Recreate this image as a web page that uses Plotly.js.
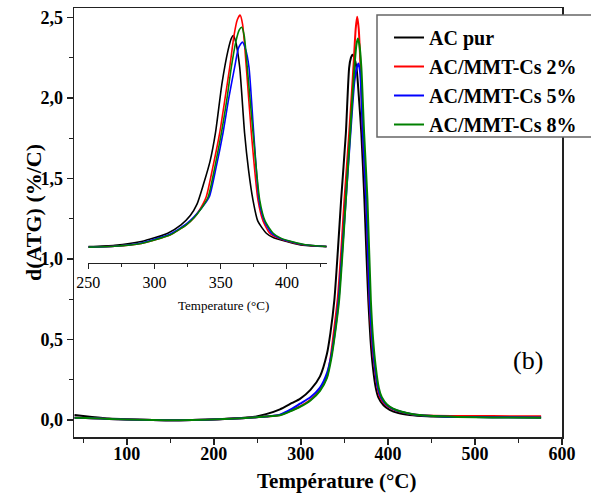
<!DOCTYPE html>
<html>
<head>
<meta charset="utf-8">
<script src="https://cdn.plot.ly/plotly-3.0.1.min.js"></script>
<style>html,body{margin:0;padding:0;background:#fff;}#chart{width:591px;height:495px;}</style>
</head>
<body>
<div id="chart"></div>
<script>
// ---- Data ----
const seriesNames = ['AC pur', 'AC/MMT-Cs 2%', 'AC/MMT-Cs 5%', 'AC/MMT-Cs 8%'];
const seriesColors = ['#000000', '#ff0000', '#0000ff', '#008000'];

// Main plot: temperature (°C) and d(ATG) (%/C)
const acPurX = [40, 60, 80, 100, 130, 160, 190, 220, 245, 260, 276, 290, 299, 311, 322, 330, 334, 338.5, 342.5, 346.3, 351.7, 355.5, 357.5, 359.3, 362, 364.3, 367, 369.5, 373, 375, 377.5, 380, 382.7, 386, 389, 395, 402, 412, 425, 445, 480, 520, 576];
const acPurY = [0.03, 0.018, 0.008, 0.003, -0.002, -0.003, 0.0, 0.008, 0.017, 0.035, 0.065, 0.105, 0.13, 0.186, 0.27, 0.41, 0.54, 0.745, 1.05, 1.37, 1.78, 2.19, 2.25, 2.27, 2.24, 2.17, 1.98, 1.78, 1.37, 1.08, 0.745, 0.5, 0.33, 0.2, 0.14, 0.09, 0.062, 0.042, 0.03, 0.022, 0.018, 0.016, 0.015];

const cs2X = [40, 60, 80, 100, 130, 160, 190, 220, 245, 260, 276, 290, 299, 311, 322, 330, 334, 338, 342.5, 346.5, 350.1, 355.5, 360.5, 363, 364.7, 366.5, 368.5, 371.2, 375, 378.8, 381.5, 384.6, 388, 391, 397, 404, 414, 427, 445, 480, 520, 576];
const cs2Y = [0.012, 0.01, 0.005, 0.002, -0.002, -0.003, 0.0, 0.006, 0.014, 0.02, 0.03, 0.06, 0.083, 0.124, 0.186, 0.27, 0.38, 0.55, 0.76, 1.06, 1.37, 1.78, 2.2, 2.43, 2.505, 2.43, 2.2, 1.78, 1.37, 0.745, 0.5, 0.33, 0.2, 0.14, 0.095, 0.07, 0.05, 0.035, 0.027, 0.024, 0.023, 0.022];

const cs5X = [40, 60, 80, 100, 130, 160, 190, 220, 245, 260, 276, 290, 299, 311, 322, 330, 335, 339, 343.4, 347.5, 351.7, 357, 361.5, 364.3, 366.2, 368.3, 371.2, 375, 379, 382, 385, 388.5, 392, 398, 405, 415, 428, 446, 480, 520, 576];
const cs5Y = [0.012, 0.01, 0.005, 0.002, -0.002, -0.003, 0.0, 0.006, 0.014, 0.02, 0.032, 0.07, 0.1, 0.14, 0.2, 0.29, 0.4, 0.54, 0.745, 1.05, 1.37, 1.78, 2.1, 2.19, 2.215, 2.15, 1.78, 1.37, 0.745, 0.5, 0.33, 0.2, 0.14, 0.095, 0.07, 0.05, 0.035, 0.025, 0.018, 0.016, 0.015];

const cs8X = [40, 60, 80, 100, 130, 160, 190, 220, 245, 260, 276, 290, 299, 311, 322, 330, 335, 339.4, 344, 348, 351.7, 356.6, 361.5, 363.8, 365.5, 367.3, 369.5, 372.7, 376.5, 380.4, 383, 386, 389.5, 393, 399, 406, 416, 429, 447, 480, 520, 576];
const cs8Y = [0.012, 0.01, 0.005, 0.002, -0.002, -0.003, 0.0, 0.006, 0.014, 0.02, 0.028, 0.058, 0.08, 0.12, 0.18, 0.26, 0.38, 0.54, 0.745, 1.05, 1.37, 1.78, 2.19, 2.33, 2.37, 2.33, 2.19, 1.78, 1.37, 0.745, 0.5, 0.33, 0.2, 0.14, 0.095, 0.07, 0.05, 0.035, 0.025, 0.018, 0.015, 0.013];

// Inset (250–430 °C) as drawn in the reference
const insetPurX = [250, 270, 290, 300, 310, 320, 327, 332, 337, 342, 346, 351, 355.5, 358, 359.5, 361.5, 364.3, 368, 371, 374.3, 378, 384.4, 390, 400, 412, 430];
const insetPurY = [0.025, 0.04, 0.08, 0.12, 0.17, 0.26, 0.36, 0.48, 0.7, 0.95, 1.25, 1.79, 2.14, 2.27, 2.30, 2.22, 1.96, 1.25, 0.85, 0.53, 0.3, 0.17, 0.12, 0.08, 0.04, 0.025];
const insetCs2X = [250, 270, 290, 300, 311.6, 324, 330, 334, 339, 344, 349.2, 353, 356.8, 360, 362.5, 364.6, 366.5, 369.3, 373.1, 378.1, 382, 387, 393, 400, 412, 430];
const insetCs2Y = [0.02, 0.03, 0.06, 0.097, 0.15, 0.26, 0.34, 0.42, 0.56, 0.88, 1.25, 1.6, 1.96, 2.3, 2.47, 2.52, 2.42, 1.96, 1.25, 0.53, 0.3, 0.17, 0.12, 0.085, 0.045, 0.027];
const insetCs5X = [250, 270, 290, 300, 311.6, 324, 330, 335, 341.3, 346.5, 351.7, 356, 360.5, 363.5, 366.3, 368.8, 371.3, 374.9, 378.9, 383, 388.4, 394, 401, 413, 430];
const insetCs5Y = [0.02, 0.03, 0.065, 0.105, 0.16, 0.27, 0.35, 0.43, 0.56, 0.88, 1.25, 1.62, 1.96, 2.17, 2.23, 2.15, 1.96, 1.25, 0.53, 0.3, 0.17, 0.12, 0.085, 0.045, 0.027];
const insetCs8X = [250, 270, 290, 300, 311.6, 324, 330, 335, 340.5, 345.5, 350.5, 354.5, 358, 361.5, 364, 365.8, 367.7, 370, 374.4, 379.4, 383.5, 389.6, 395, 402, 414, 430];
const insetCs8Y = [0.02, 0.03, 0.06, 0.097, 0.15, 0.26, 0.34, 0.43, 0.56, 0.88, 1.25, 1.6, 1.96, 2.24, 2.36, 2.39, 2.3, 1.96, 1.25, 0.53, 0.3, 0.17, 0.12, 0.085, 0.045, 0.027];

const xTitle = 'Température (°C)';
const yTitle = 'd(ATG) (%/C)';
const insetTitle = 'Temperature (°C)';
const panelLabel = '(b)';

// ---- Build traces ----
const mainX = [acPurX, cs2X, cs5X, cs8X];
const mainY = [acPurY, cs2Y, cs5Y, cs8Y];
const insX = [insetPurX, insetCs2X, insetCs5X, insetCs8X];
const insY = [insetPurY, insetCs2Y, insetCs5Y, insetCs8Y];

const traces = [];
for (let i = 0; i < 4; i++) {
  traces.push({
    x: mainX[i], y: mainY[i], name: seriesNames[i], type: 'scatter', mode: 'lines',
    line: {color: seriesColors[i], width: 2, shape: 'spline', smoothing: 0.6},
    xaxis: 'x', yaxis: 'y', hoverinfo: 'skip'
  });
}
for (let i = 0; i < 4; i++) {
  traces.push({
    x: insX[i], y: insY[i], name: seriesNames[i], type: 'scatter', mode: 'lines',
    line: {color: seriesColors[i], width: 1.6, shape: 'spline', smoothing: 0.6},
    xaxis: 'x2', yaxis: 'y2', showlegend: false, hoverinfo: 'skip'
  });
}

const serif = 'Liberation Serif';
const W = 591, H = 495, L = 74, R = 29, T = 8, B = 58;
const pw = W - L - R, ph = H - T - B;
const px = (x) => (x - L) / pw;          // pixel -> paper x
const py = (y) => (H - B - y) / ph;       // pixel -> paper y

const layout = {
  width: W, height: H,
  margin: {l: L, r: R, t: T, b: B, pad: 0},
  paper_bgcolor: '#ffffff', plot_bgcolor: 'rgba(0,0,0,0)',
  font: {family: serif, color: '#000'},
  separators: ', ',
  showlegend: true,
  legend: {
    x: px(389), y: py(18), xanchor: 'left', yanchor: 'top',
    bgcolor: 'rgba(0,0,0,0)', borderwidth: 0,
    font: {family: serif, size: 20, color: '#000', weight: 'bold'},
    tracegroupgap: 0
  },
  xaxis: {
    domain: [0, 1], anchor: 'y', range: [39.4, 600.01],
    tick0: 0, dtick: 100, ticks: 'outside', ticklen: 6, tickwidth: 1.5, tickcolor: '#222',
    ticklabelstandoff: -6,
    minor: {dtick: 50, ticks: 'outside', ticklen: 4, tickwidth: 1.2, tickcolor: '#222', showgrid: false},
    showline: true, linecolor: '#222', linewidth: 1.5, mirror: true,
    showgrid: false, zeroline: false,
    tickfont: {family: serif, size: 18, color: '#000', weight: 'bold'}
  },
  yaxis: {
    domain: [0, 1], anchor: 'x', range: [-0.107, 2.56],
    tick0: 0, dtick: 0.5, tickformat: '.1f', ticks: 'outside', ticklen: 6, tickwidth: 1.5, tickcolor: '#222',
    minor: {dtick: 0.25, ticks: 'outside', ticklen: 4, tickwidth: 1.2, tickcolor: '#222', showgrid: false},
    showline: true, linecolor: '#222', linewidth: 1.5, mirror: true,
    showgrid: false, zeroline: false,
    tickfont: {family: serif, size: 18, color: '#000', weight: 'bold'}
  },
  xaxis2: {
    domain: [px(88.3), px(326.7)], anchor: 'y2', range: [250, 430],
    tick0: 0, dtick: 50, ticks: 'outside', ticklen: 5, tickwidth: 1, tickcolor: '#222',
    minor: {dtick: 25, ticks: 'outside', ticklen: 3, tickwidth: 1, tickcolor: '#222', showgrid: false},
    showline: true, linecolor: '#222', linewidth: 1, mirror: false,
    showgrid: false, zeroline: false,
    tickfont: {family: serif, size: 16, color: '#000'}
  },
  yaxis2: {
    domain: [py(263), 1], anchor: 'x2', range: [-0.151, 2.597],
    visible: false, showgrid: false, zeroline: false
  },
  shapes: [
    {type: 'rect', xref: 'paper', yref: 'paper', layer: 'above',
     x0: px(377), x1: px(600), y0: py(137), y1: py(15),
     line: {color: '#666', width: 1.5}, fillcolor: '#ffffff'}
  ],
  annotations: [
    {text: xTitle, xref: 'paper', yref: 'paper', x: px(336), y: py(481), xanchor: 'center', yanchor: 'middle',
     showarrow: false, font: {family: serif, size: 21, color: '#000', weight: 'bold'}},
    {text: yTitle, xref: 'paper', yref: 'paper', x: px(33), y: py(213), xanchor: 'center', yanchor: 'middle',
     textangle: -90, showarrow: false, font: {family: serif, size: 22, color: '#000', weight: 'bold'}},
    {text: panelLabel, xref: 'paper', yref: 'paper', x: px(528), y: py(360), xanchor: 'center', yanchor: 'middle',
     showarrow: false, font: {family: serif, size: 26, color: '#000'}},
    {text: insetTitle, xref: 'x2', yref: 'paper', x: 352, y: py(305), xanchor: 'center', yanchor: 'middle',
     showarrow: false, font: {family: serif, size: 13, color: '#000'}}
  ]
};

Plotly.newPlot('chart', traces, layout, {staticPlot: true, displayModeBar: false});
</script>
</body>
</html>
